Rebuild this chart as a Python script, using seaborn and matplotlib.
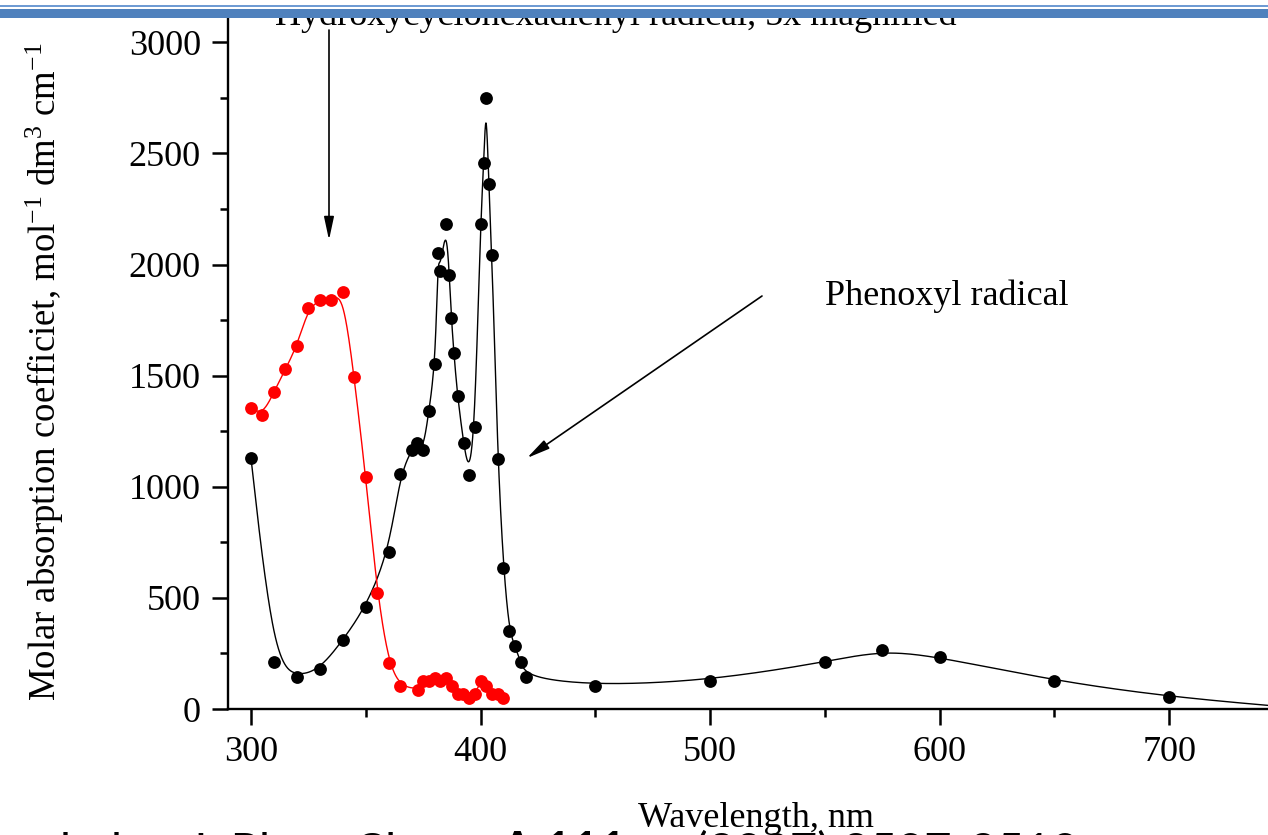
import numpy as np
import pandas as pd
import matplotlib
matplotlib.use("Agg")
import matplotlib.pyplot as plt
from matplotlib.patches import Rectangle
from matplotlib.ticker import MultipleLocator
import seaborn as sns

# ── Data ──────────────────────────────────────────────────────
# Phenoxyl radical (black)
wl_phen = [300, 310, 320, 330, 340, 350, 360, 365, 370, 372.5, 375, 377.5,
           380.3, 381.5, 382.3, 385, 386.4, 387.3, 388.4, 390, 392.6, 395,
           397.5, 400, 401.4, 402.4, 403.6, 405, 407.5, 410, 412.5, 415,
           417.5, 420, 450, 500, 550, 575, 600, 650, 700, 750]
eps_phen = [1130, 211, 144, 178, 310, 458, 705, 1057, 1165, 1197, 1165, 1340,
            1552, 2051, 1972, 2183, 1955, 1760, 1600, 1407, 1197, 1055,
            1268, 2183, 2457, 2748, 2364, 2042, 1127, 634, 352, 282,
            210, 142, 105, 128, 211, 265, 234, 127, 55, 10]

# Hydroxycyclohexadienyl radical, 5x magnified (red)
wl_hyd = [300, 305, 310, 315, 320, 325, 330, 335, 340, 345, 350, 355, 360,
          365, 372.7, 375, 377.5, 380, 382.5, 385, 387.5, 390, 392.5, 395,
          397.5, 400, 402.5, 405, 407.5, 410]
eps_hyd = [1356, 1322, 1426, 1529, 1633, 1804, 1840, 1840, 1876, 1493, 1044,
           522, 205, 103, 87, 124, 124, 138, 124, 138, 103, 68, 68, 50,
           68, 124, 103, 68, 68, 50]


def bspline(x, y, n=30):
    """Uniform cubic B-spline using the points as control points (Origin style)."""
    P = np.column_stack([x, y]).astype(float)
    P = np.vstack([P[0], P[0], P, P[-1], P[-1]])
    t = np.linspace(0, 1, n, endpoint=False)[:, None]
    b0 = (1 - t) ** 3 / 6
    b1 = (3 * t ** 3 - 6 * t ** 2 + 4) / 6
    b2 = (-3 * t ** 3 + 3 * t ** 2 + 3 * t + 1) / 6
    b3 = t ** 3 / 6
    segs = [b0 * P[i] + b1 * P[i + 1] + b2 * P[i + 2] + b3 * P[i + 3]
            for i in range(len(P) - 3)]
    pts = np.vstack(segs + [P[-1][None, :]])
    return pd.DataFrame({"wl": pts[:, 0], "eps": pts[:, 1]})


sns.set_style("ticks")
plt.rcParams.update({
    "font.family": ["Liberation Serif", "DejaVu Serif"],
    "mathtext.fontset": "custom",
    "mathtext.rm": "Liberation Serif",
    "mathtext.it": "Liberation Serif:italic",
    "mathtext.bf": "Liberation Serif:bold",
    "axes.linewidth": 1.7,
    "axes.edgecolor": "black",
    "axes.labelcolor": "black",
    "text.color": "black",
    "xtick.color": "black",
    "ytick.color": "black",
})

W, H = 1268, 835
fig = plt.figure(figsize=(W / 100, H / 100), dpi=100)
ax = fig.add_axes([228 / W, 1 - 709 / H, 1056 / W, 692 / H])

phen = pd.DataFrame({"wl": wl_phen, "eps": eps_phen})
hyd = pd.DataFrame({"wl": wl_hyd, "eps": eps_hyd})

sns.lineplot(data=bspline(wl_phen, eps_phen), x="wl", y="eps", sort=False,
             estimator=None, color="black", lw=1.0, ax=ax)
sns.lineplot(data=bspline(wl_hyd, eps_hyd), x="wl", y="eps", sort=False,
             estimator=None, color="#ff0000", lw=1.0, ax=ax)
sns.scatterplot(data=phen, x="wl", y="eps", color="black", s=85,
                linewidth=0, zorder=3, ax=ax)
sns.scatterplot(data=hyd, x="wl", y="eps", color="#ff0000", s=85,
                linewidth=0, zorder=3, ax=ax)

ax.set_xlim(290, 750)
ax.set_ylim(0, 3114)
ax.xaxis.set_major_locator(MultipleLocator(100))
ax.xaxis.set_minor_locator(MultipleLocator(50))
ax.yaxis.set_major_locator(MultipleLocator(500))
ax.yaxis.set_minor_locator(MultipleLocator(250))
ax.tick_params(which="major", length=11.5, width=1.8, direction="out",
               labelsize=26, pad=8)
ax.tick_params(which="minor", length=5.8, width=1.8, direction="out")
ax.spines["top"].set_visible(False)
ax.spines["right"].set_visible(False)

ax.set_xlabel("Wavelength, nm", fontsize=26)
ax.xaxis.label.set_va("baseline")
ax.xaxis.set_label_coords(0.5, -(827 - 709) / 692)
ax.set_ylabel("Molar absorption coefficiet, mol$^{-1}$ dm$^{3}$ cm$^{-1}$",
              fontsize=26.5)
ax.yaxis.set_label_coords(-(228 - 66) / 1056, (709 - 372) / 692)


def fp(x, y):
    return (x / W, 1 - y / H)


# annotations
fig.text(*fp(616, 25), "Hydroxycyclohexadienyl radical, 5x magnified",
         ha="center", va="baseline", fontsize=26, zorder=5)
fig.text(*fp(825, 305), "Phenoxyl radical", ha="left", va="baseline",
         fontsize=26, zorder=5)

arrow = dict(arrowstyle="-|>,head_length=1.4,head_width=0.3", lw=1.2,
             color="black", shrinkA=0, shrinkB=0)
ax.annotate("", xy=fp(329, 240), xytext=fp(329, 30),
            xycoords="figure fraction", textcoords="figure fraction",
            arrowprops=arrow, annotation_clip=False)
ax.annotate("", xy=fp(527, 458), xytext=fp(762, 296),
            xycoords="figure fraction", textcoords="figure fraction",
            arrowprops=arrow, annotation_clip=False)

# slide decoration: white band with blue rules covering the top
fig.add_artist(Rectangle(fp(0, 17), 1, 17 / H, transform=fig.transFigure,
                         color="white", zorder=9, lw=0))
fig.add_artist(Rectangle(fp(0, 7), 1, 2.5 / H, transform=fig.transFigure,
                         color="#6f9bd3", zorder=10, lw=0))
fig.add_artist(Rectangle(fp(0, 17.5), 1, 8 / H, transform=fig.transFigure,
                         color="#4f81bd", zorder=10, lw=0))

# citation on the slide, cut off at the bottom
cite = dict(family=["Lato", "DejaVu Sans"], fontsize=34, va="baseline",
            zorder=1)
fig.text(*fp(487, 866), "hyler, J. Phys. Chem.", ha="right", **cite)
fig.text(*fp(500, 866), "A 111", ha="left", fontweight="bold", **cite)
fig.text(*fp(1079, 866), "(2007) 2507-2510", ha="right", **cite)

fig.savefig("out.png", dpi=100)
